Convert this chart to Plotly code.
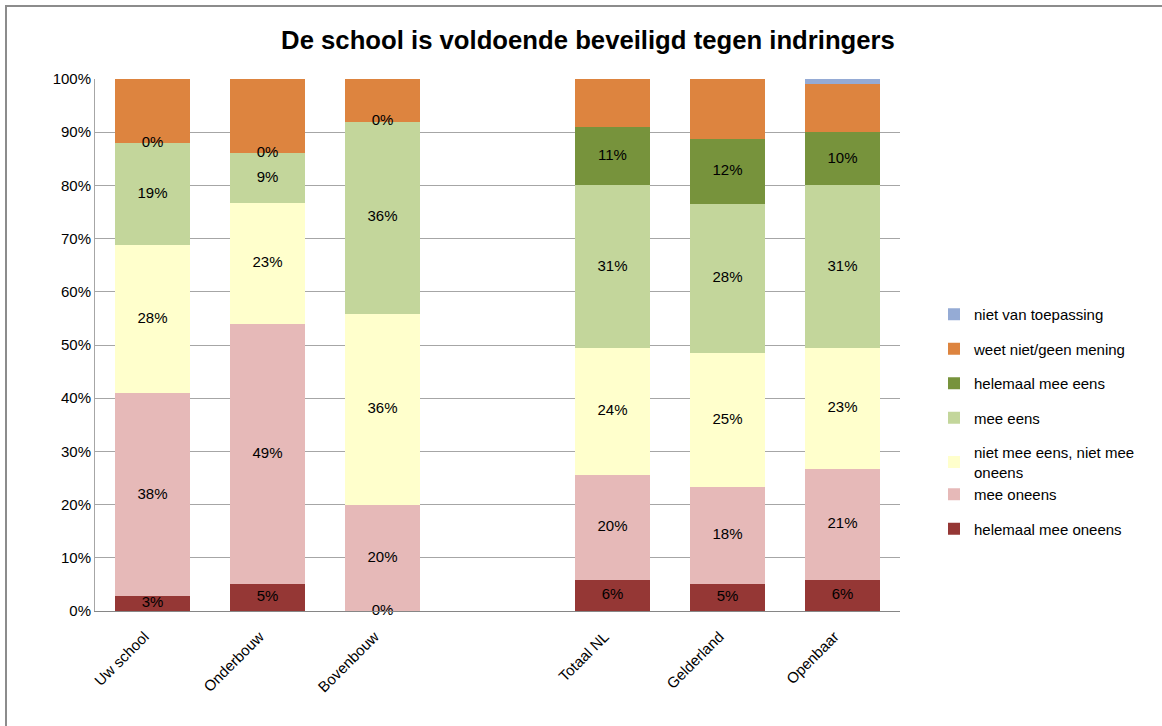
import plotly.graph_objects as go

categories = ["Uw school", "Onderbouw", "Bovenbouw", " ", "Totaal NL", "Gelderland", "Openbaar"]

series_names = [
    "helemaal mee oneens",
    "mee oneens",
    "niet mee eens, niet mee<br>oneens",
    "mee eens",
    "helemaal mee eens",
    "weet niet/geen mening",
    "niet van toepassing",
]

helemaal_mee_oneens = [2.8, 5.0, 0.0, None, 5.8, 5.0, 5.8]
mee_oneens = [38.1, 49.0, 19.9, None, 19.8, 18.3, 20.9]
neutraal = [27.9, 22.7, 36.0, None, 23.8, 25.2, 22.7]
mee_eens = [19.2, 9.3, 36.1, None, 30.6, 28.0, 30.6]
helemaal_mee_eens = [0.0, 0.0, 0.0, None, 11.0, 12.3, 10.0]
weet_niet = [12.0, 14.0, 8.0, None, 9.0, 11.2, 9.0]
niet_van_toepassing = [0.0, 0.0, 0.0, None, 0.0, 0.0, 1.0]

series_values = [helemaal_mee_oneens, mee_oneens, neutraal, mee_eens,
                 helemaal_mee_eens, weet_niet, niet_van_toepassing]
colors = ["#953735", "#E6B9B8", "#FFFFCC", "#C3D69B", "#77933C", "#DD843F", "#95ABD5"]
show_labels = [True, True, True, True, True, False, False]
# legend groups: the two-line item shares a group with the next one (tighter spacing)
legend_groups = ["g0", "g1", "g1", "g3", "g4", "g5", "g6"]

FONT = "Liberation Sans, Arial"

fig = go.Figure()
n = len(series_names)
for i, (name, vals, col) in enumerate(zip(series_names, series_values, colors)):
    fig.add_trace(go.Bar(
        x=categories, y=vals, name=name, marker=dict(color=col, line=dict(width=0)),
        legendgroup=legend_groups[i], legendrank=n - i, hoverinfo="y+name",
    ))

# labels at segment centres (including zero-height segments)
base = [0.0] * len(categories)
for i, vals in enumerate(series_values):
    xs, ys, txt = [], [], []
    for j, v in enumerate(vals):
        if v is None:
            continue
        if show_labels[i]:
            xs.append(categories[j])
            ys.append(base[j] + v / 2)
            txt.append(f"{round(v):.0f}%")
        base[j] += v
    if xs:
        fig.add_trace(go.Scatter(
            x=xs, y=ys, text=txt, mode="text", showlegend=False,
            textfont=dict(family=FONT, size=15, color="#000000"),
            hoverinfo="skip", cliponaxis=False,
        ))

W, H = 1162, 726
ml, mr, mt, mb = 95, 262, 79, 115
pw, ph = W - ml - mr, H - mt - mb

fig.update_layout(
    width=W, height=H,
    barmode="stack", bargap=0.34,
    margin=dict(l=ml, r=mr, t=mt, b=mb, autoexpand=False),
    paper_bgcolor="white", plot_bgcolor="white",
    font=dict(family=FONT, size=15, color="#000000"),
    title=dict(text="<b>De school is voldoende beveiligd tegen indringers</b>",
               x=588 / W, xanchor="center", y=1 - 40 / H, yanchor="middle",
               font=dict(family=FONT, size=25.7, color="#000000")),
    legend=dict(x=(934 - ml) / pw, xanchor="left", y=(H - mb - 298) / ph, yanchor="top",
                traceorder="grouped", tracegroupgap=12,
                font=dict(family=FONT, size=15, color="#000000"),
                itemwidth=30, bgcolor="rgba(0,0,0,0)"),
    showlegend=True,
    xaxis=dict(type="category", categoryorder="array", categoryarray=categories,
               tickangle=-45, showline=True, linecolor="#868686", linewidth=1,
               ticks="", showgrid=False, tickfont=dict(size=15),
               ticklabelstandoff=10, ticklabelshift=-8),
    yaxis=dict(range=[0, 100], tickvals=list(range(0, 101, 10)),
               ticktext=[f"{v}%" for v in range(0, 101, 10)],
               showgrid=True, gridcolor="#A6A6A6", gridwidth=1,
               showline=True, linecolor="#A6A6A6", linewidth=1, ticks="",
               zeroline=False, tickfont=dict(size=15)),
    shapes=[dict(type="rect", xref="paper", yref="paper",
                 x0=(6 - ml) / pw, x1=(1175 - ml) / pw,
                 y0=(H - mb - 740) / ph, y1=(H - mb - 6) / ph,
                 line=dict(color="#8C8C8C", width=2), fillcolor="rgba(0,0,0,0)",
                 layer="below")],
)

fig.write_html("out.html", config={"displayModeBar": False},
               post_script="document.body.style.margin='0';document.body.style.overflow='hidden';")
